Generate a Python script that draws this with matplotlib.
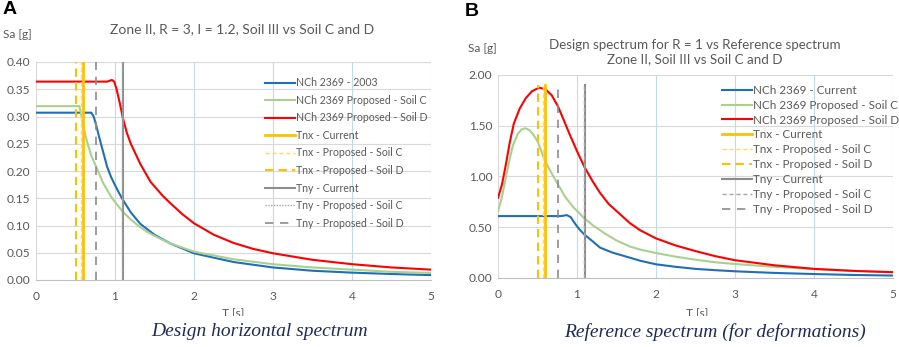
"""
Design spectra: NCh 2369 current vs proposed, two panels
"""

import numpy as np
import matplotlib
matplotlib.use("Agg")
import matplotlib.pyplot as plt
from matplotlib.patches import Rectangle

plt.rcParams['font.family'] = ['Lato', 'DejaVu Sans']

# ---- panel A data: design horizontal spectrum ----
tA_blue = [0, 0.70, 0.73, 0.76, 0.80, 0.85, 0.90, 0.95, 1.0, 1.05, 1.1, 1.2, 1.32, 1.5,
           1.7, 2.0, 2.5, 3.0, 3.5, 4.0, 4.5, 5.0]
sA_blue = [0.307, 0.307, 0.300, 0.285, 0.262, 0.235, 0.208, 0.189, 0.174, 0.160, 0.147,
           0.124, 0.103, 0.083, 0.067, 0.049, 0.033, 0.023, 0.017, 0.0135, 0.011, 0.009]

tA_green = [0, 0.55, 0.57, 0.60, 0.65, 0.70, 0.77, 0.85, 0.95, 1.0, 1.1, 1.2, 1.3, 1.4,
            1.5, 1.7, 2.0, 2.5, 3.0, 3.5, 4.0, 4.5, 5.0]
sA_green = [0.319, 0.319, 0.305, 0.280, 0.252, 0.228, 0.205, 0.178, 0.153, 0.143, 0.125,
            0.111, 0.099, 0.089, 0.081, 0.067, 0.052, 0.038, 0.029, 0.023, 0.019, 0.015, 0.013]

tA_red = [0, 0.90, 0.96, 0.99, 1.02, 1.06, 1.10, 1.15, 1.2, 1.32, 1.45, 1.6, 1.7, 1.85,
          2.0, 2.25, 2.5, 2.75, 3.0, 3.5, 4.0, 4.5, 5.0]
sA_red = [0.364, 0.364, 0.367, 0.364, 0.350, 0.325, 0.297, 0.270, 0.250, 0.213, 0.180,
          0.155, 0.141, 0.121, 0.104, 0.083, 0.068, 0.057, 0.049, 0.037, 0.029, 0.023, 0.019]

# ---- panel B data: reference spectrum (for deformations) ----
tB_blue = [0, 0.80, 0.87, 0.92, 0.98, 1.03, 1.09, 1.2, 1.29, 1.45, 1.67, 1.8, 2.0, 2.25,
           2.5, 2.75, 3.0, 3.5, 4.0, 4.5, 5.0]
sB_blue = [0.61, 0.61, 0.62, 0.60, 0.53, 0.48, 0.43, 0.36, 0.30, 0.25, 0.20, 0.17, 0.135,
           0.11, 0.09, 0.077, 0.066, 0.05, 0.039, 0.03, 0.024]

tB_green = [0, 0.05, 0.106, 0.15, 0.19, 0.25, 0.30, 0.35, 0.40, 0.45, 0.506, 0.59, 0.68,
            0.76, 0.85, 0.95, 1.09, 1.2, 1.35, 1.5, 1.67, 1.8, 2.0, 2.25, 2.5, 2.75, 3.0,
            3.5, 4.0, 4.5, 5.0]
sB_green = [0.655, 0.80, 1.016, 1.18, 1.31, 1.42, 1.465, 1.475, 1.455, 1.41, 1.34, 1.16,
            1.03, 0.92, 0.80, 0.70, 0.59, 0.52, 0.44, 0.37, 0.31, 0.28, 0.246, 0.21, 0.18,
            0.155, 0.138, 0.11, 0.088, 0.07, 0.057]

tB_red = [0, 0.05, 0.10, 0.15, 0.2, 0.275, 0.35, 0.43, 0.52, 0.6, 0.68, 0.76, 0.83, 0.91,
          1.0, 1.09, 1.2, 1.29, 1.4, 1.5, 1.67, 1.8, 2.0, 2.25, 2.5, 2.75, 3.0, 3.5, 4.0,
          4.5, 5.0]
sB_red = [0.79, 0.92, 1.12, 1.34, 1.52, 1.67, 1.77, 1.84, 1.875, 1.86, 1.80, 1.69, 1.56,
          1.41, 1.25, 1.10, 0.95, 0.84, 0.73, 0.66, 0.54, 0.47, 0.39, 0.32, 0.265, 0.215,
          0.175, 0.125, 0.09, 0.07, 0.057]

# periods of the vertical marker lines [s]
tnx_current, tnx_soil_c, tnx_soil_d = 0.59, 0.57, 0.50
tny_current, tny_soil_c, tny_soil_d = 1.10, 1.09, 0.76
vline_top_A = 0.40
vline_top_B = 1.90

labels_A = ["NCh 2369 - 2003", "NCh 2369 Proposed - Soil C", "NCh 2369 Proposed - Soil D"]
labels_B = ["NCh 2369 - Current", "NCh 2369 Proposed - Soil C", "NCh 2369 Proposed - Soil D"]

BLUE = "#1f6fb8"
GREEN = "#a9d18e"
RED = "#ff0000"
ORANGE = "#ffc000"
LYELLOW = "#ffd966"
GRAY = "#8c8c8c"
TXT = "#595959"
NAVY = "#1f2a5c"

fig = plt.figure(figsize=(8.99, 3.47), dpi=100)
W, H = 899.0, 347.0


def px_axes(l, t, r, b):
    return fig.add_axes([l / W, 1 - b / H, (r - l) / W, (b - t) / H])


def style(ax, ymax, ystep, yfmt):
    ax.set_xlim(0, 5)
    ax.set_ylim(0, ymax)
    ax.set_xticks(range(0, 6))
    ax.set_yticks(np.arange(0, ymax + 1e-9, ystep))
    ax.set_yticklabels([yfmt % v for v in np.arange(0, ymax + 1e-9, ystep)])
    ax.tick_params(length=0, labelsize=8.6, labelcolor=TXT, pad=4)
    ax.tick_params(axis="x", pad=8)
    for s in ["top", "right", "left"]:
        ax.spines[s].set_visible(False)
    ax.spines["bottom"].set_color("#bfbfbf")
    for v in np.arange(ystep, ymax + 1e-9, ystep):
        ax.axhline(v, color="#d9d9d9", lw=0.8, zorder=0)
    for v in range(1, 6):
        ax.axvline(v, color="#c5d9ec", lw=0.8, zorder=0)
    ax.axvline(0, color="#d9d9d9", lw=0.8, zorder=0)


def draw(ax, data, labels, top, tny_c_style):
    (tb, sb), (tg, sg), (tr, sr) = data
    ax.plot(tb, sb, color=BLUE, lw=1.5, label=labels[0], zorder=3)
    ax.plot(tg, sg, color=GREEN, lw=1.5, label=labels[1], zorder=3)
    ax.plot(tr, sr, color=RED, lw=1.5, label=labels[2], zorder=3)
    f = top / ax.get_ylim()[1]
    ax.axvline(tnx_current, ymax=f, color=ORANGE, lw=2.0, label="Tnx - Current", zorder=4)
    ax.axvline(tnx_soil_c, ymax=f, color=LYELLOW, lw=1.0, ls=(0, (3, 2)),
               label="Tnx - Proposed - Soil C", zorder=4)
    ax.axvline(tnx_soil_d, ymax=f, color=ORANGE, lw=1.5, ls=(0, (4, 2.5)),
               label="Tnx - Proposed - Soil D", zorder=4)
    ax.axvline(tny_current, ymax=f, color=GRAY, lw=1.5, label="Tny - Current", zorder=4)
    ax.axvline(tny_soil_c, ymax=f, color="#a6a6a6", lw=1.0, ls=tny_c_style,
               label="Tny - Proposed - Soil C", zorder=4)
    ax.axvline(tny_soil_d, ymax=f, color=GRAY, lw=1.2, ls=(0, (5, 4)),
               label="Tny - Proposed - Soil D", zorder=4)


# ---- panel A ----
axA = px_axes(36, 62, 431, 280)
style(axA, 0.40, 0.05, "%.2f")
draw(axA, [(tA_blue, sA_blue), (tA_green, sA_green), (tA_red, sA_red)], labels_A,
     vline_top_A, (0, (1, 1)))
legA = axA.legend(loc="upper left", bbox_to_anchor=(260 / W, 1 - 72 / H),
                  bbox_transform=fig.transFigure, frameon=False, fontsize=7.6,
                  handlelength=2.8, handletextpad=0.1, labelspacing=0.62, borderpad=0)
for t in legA.get_texts():
    t.set_color(TXT)

# ---- panel B ----
axB = px_axes(498, 75, 893, 278)
style(axB, 2.0, 0.5, "%.2f")
draw(axB, [(tB_blue, sB_blue), (tB_green, sB_green), (tB_red, sB_red)], labels_B,
     vline_top_B, (0, (3, 2)))
legB = axB.legend(loc="upper left", bbox_to_anchor=(716 / W, 1 - 79 / H),
                  bbox_transform=fig.transFigure, frameon=False, fontsize=8.4,
                  handlelength=2.6, handletextpad=0.1, labelspacing=0.33, borderpad=0)
for t in legB.get_texts():
    t.set_color(TXT)

# ---- text ----
fig.text(3 / W, 1 - 10 / H, "A", fontsize=14, fontweight="bold",
         family="Liberation Sans", va="center", ha="left")
fig.text(465 / W, 1 - 12 / H, "B", fontsize=14, fontweight="bold",
         family="Liberation Sans", va="center", ha="left")
fig.text(242 / W, 1 - 29 / H, "Zone II, R = 3, I = 1.2, Soil III vs Soil C and D",
         fontsize=10, color=TXT, ha="center", va="center")
fig.text(695 / W, 1 - 52 / H,
         "Design spectrum for R = 1 vs Reference spectrum\nZone II, Soil III vs Soil C and D",
         fontsize=9.6, color=TXT, ha="center", va="center", linespacing=1.25)
fig.text(3 / W, 1 - 34 / H, "Sa [g]", fontsize=8.6, color=TXT, va="center")
fig.text(468 / W, 1 - 48 / H, "Sa [g]", fontsize=8.6, color=TXT, va="center")
fig.text(233 / W, 1 - 314 / H, "T [s]", fontsize=8.6, color=TXT, ha="center", va="center")
fig.text(697 / W, 1 - 314 / H, "T [s]", fontsize=8.6, color=TXT, ha="center", va="center")

# caption band hides the lower half of the axis titles
fig.patches.append(Rectangle((0, 0), 1, 1 - 316 / H, transform=fig.transFigure,
                             facecolor="white", edgecolor="none", zorder=5))
fig.text(260 / W, 1 - 332 / H, "Design horizontal spectrum", fontsize=14,
         style="italic", family="Liberation Serif", color=NAVY, ha="center",
         va="center", zorder=6)
fig.text(715 / W, 1 - 332 / H, "Reference spectrum (for deformations)", fontsize=14,
         style="italic", family="Liberation Serif", color=NAVY, ha="center",
         va="center", zorder=6)

fig.savefig("out.png", dpi=100, facecolor="white")
